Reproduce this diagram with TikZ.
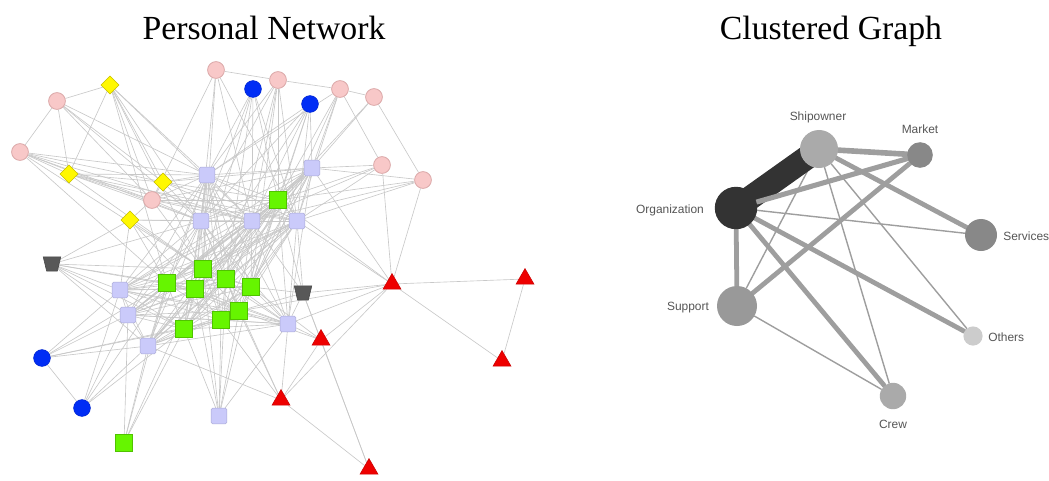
\documentclass[tikz,border=0pt]{standalone}
\usepackage{fontspec}
\setmainfont{Liberation Serif}
\newfontfamily\labelfont{Liberation Sans}
\usetikzlibrary{shapes.geometric}

\pgfdeclarelayer{bg}
\pgfsetlayers{bg,main}

\definecolor{pinkfill}{RGB}{248,200,200}
\definecolor{pinkline}{RGB}{220,170,170}
\definecolor{bluefill}{RGB}{0,45,245}
\definecolor{lavfill}{RGB}{202,202,250}
\definecolor{lavline}{RGB}{170,170,215}
\definecolor{greenfill}{RGB}{102,245,0}
\definecolor{greenline}{RGB}{80,195,0}
\definecolor{yellowfill}{RGB}{255,248,0}
\definecolor{yellowline}{RGB}{200,190,0}
\definecolor{redfill}{RGB}{238,0,0}
\definecolor{trapfill}{RGB}{88,88,88}
\definecolor{edgegray}{RGB}{200,200,200}
\definecolor{linkgray}{RGB}{158,158,158}
\definecolor{labelgray}{RGB}{85,85,85}

\tikzset{
	pinknode/.style={circle, fill=pinkfill, draw=pinkline, line width=0.6pt, minimum size=0.42cm, inner sep=0pt},
	bluenode/.style={circle, fill=bluefill, draw=bluefill!85!black, line width=0.4pt, minimum size=0.42cm, inner sep=0pt},
	yellownode/.style={diamond, fill=yellowfill, draw=yellowline, line width=0.4pt, minimum size=0.46cm, inner sep=0pt},
	lavnode/.style={rectangle, rounded corners=1pt, fill=lavfill, draw=lavline, line width=0.4pt, minimum size=0.39cm, inner sep=0pt},
	greennode/.style={rectangle, fill=greenfill, draw=greenline, line width=0.4pt, minimum size=0.43cm, inner sep=0pt},
	trapnode/.style={trapezium, trapezium angle=72, trapezium stretches=true, shape border rotate=180, fill=trapfill, draw=trapfill!80!black, line width=0.4pt, minimum width=0.44cm, minimum height=0.36cm, inner sep=1pt},
	rednode/.style={regular polygon, regular polygon sides=3, fill=redfill, draw=redfill!85!black, line width=0.4pt, minimum size=0.52cm, inner sep=0pt},
	tieline/.style={draw=edgegray, line width=0.45pt},
	cluster/.style={circle, inner sep=0pt},
	link/.style={draw=linkgray, line cap=round},
	clabel/.style={text=labelgray, font=\labelfont\fontsize{8.5}{9}\selectfont, inner sep=0pt},
	title/.style={font=\fontsize{24}{28}\selectfont, anchor=base, inner sep=0pt}
}

\begin{document}
\begin{tikzpicture}[x=0.025cm, y=-0.025cm]
	\useasboundingbox (0,0) rectangle (1049,480);

	%% titles
	\node[title] at (264,39)(titleA){Personal Network};
	\node[title] at (831,39)(titleB){Clustered Graph};

	%% personal network: pink
	\node[pinknode] at (216,70)(pa){};
	\node[pinknode] at (278,80)(pb){};
	\node[pinknode] at (340,89)(pc){};
	\node[pinknode] at (374,97)(pd){};
	\node[pinknode] at (57,101)(pe){};
	\node[pinknode] at (20,152)(pf){};
	\node[pinknode] at (382,165)(pg){};
	\node[pinknode] at (423,180)(ph){};
	\node[pinknode] at (152,200)(pi){};

	%% blue
	\node[bluenode] at (253,89)(ba){};
	\node[bluenode] at (310,104)(bb){};
	\node[bluenode] at (42,358)(bc){};
	\node[bluenode] at (82,408)(bd){};

	%% yellow
	\node[yellownode] at (110,85)(ya){};
	\node[yellownode] at (69,174)(yb){};
	\node[yellownode] at (163,182)(yc){};
	\node[yellownode] at (130,220)(yd){};

	%% lavender
	\node[lavnode] at (207,175)(la){};
	\node[lavnode] at (312,168)(lb){};
	\node[lavnode] at (201,221)(lc){};
	\node[lavnode] at (252,221)(ld){};
	\node[lavnode] at (297,221)(le){};
	\node[lavnode] at (120,290)(lf){};
	\node[lavnode] at (128,315)(lg){};
	\node[lavnode] at (148,346)(lh){};
	\node[lavnode] at (288,324)(li){};
	\node[lavnode] at (219,416)(lj){};

	%% green
	\node[greennode] at (278,200)(ga){};
	\node[greennode] at (203,269)(gb){};
	\node[greennode] at (167,283)(gc){};
	\node[greennode] at (226,279)(gd){};
	\node[greennode] at (195,289)(ge){};
	\node[greennode] at (251,287)(gf){};
	\node[greennode] at (239,311)(gg){};
	\node[greennode] at (221,320)(gh){};
	\node[greennode] at (184,329)(gi){};
	\node[greennode] at (124,443)(gj){};

	%% gray
	\node[trapnode] at (52,264)(ka){};
	\node[trapnode] at (303,293)(kb){};

	%% red
	\node[rednode] at (392,284)(ra){};
	\node[rednode] at (525,279)(rb){};
	\node[rednode] at (321,340)(rc){};
	\node[rednode] at (502,361)(rd){};
	\node[rednode] at (281,400)(re){};
	\node[rednode] at (369,469)(rf){};

	\begin{pgfonlayer}{bg}
		% dense core
		\foreach \a [count=\i] in {la,lb,lc,ld,le,lf,lg,lh,li,ga,gb,gc,gd,ge,gf,gg,gh,gi}{
			\foreach \b [count=\j] in {la,lb,lc,ld,le,lf,lg,lh,li,ga,gb,gc,gd,ge,gf,gg,gh,gi}{
				\ifnum\j>\i \draw[tieline] (\a) -- (\b); \fi
			}
		}
		% outer ties
		\foreach \s/\ts in {
			pa/{pb,pi,ld,le,gb,lc},
			pb/{pc,la,lc,ld,le,ga,gd,gf},
			ba/{la,ld,le,ga,gb,gd,lc},
			bb/{la,ld,ga,le,gf,lb,lc,gb},
			pc/{pd,lb,la,ga,le,gf,pg},
			pd/{ph,lb,ga},
			pg/{lb,ld,le,ga,ra},
			ph/{lb,le,ld,ga,ra},
			pe/{ya,pf,yb,yc,la,lc,pi},
			pf/{yb,yc,pi,la,lc,ld,gb,gc},
			ya/{yb,yc,pi,lc,la,ld,gb,gc},
			yb/{yc,la,pi,lc,ld,le,gb},
			yc/{pi,la,lc,ld,le,lb,ga},
			yd/{pi,lc,ld,gc,gb,ge,lf,ka},
			pi/{la,lc,ld,le,lb,ga,gb},
			ka/{lf,lg,lc,gb,gc,ge,gi,lh},
			kb/{ga,le,ld,gf,gg,li,ra,rc,rf},
			bc/{bd,lf,lg,lh,gc,gi,gh},
			bd/{lf,lg,lh,gc,gi},
			gj/{lh,lg,gi,ge,gc},
			lj/{gb,gd,ge,gf,gg,gh,gi,li},
			ra/{rb,rd,rc,re,le,lb,ga,li,gg},
			rb/{rd},
			rc/{rf,re,li,gf,gg},
			re/{rf,gd,gg,gh,lh,li}}{
			\foreach \t in \ts {\draw[tieline] (\s) -- (\t);}
		}
	\end{pgfonlayer}

	%% clustered graph
	\node[cluster, fill={rgb,255:red,51;green,51;blue,51}, minimum size=1.06cm] at (736,208)(org){};
	\node[cluster, fill={rgb,255:red,170;green,170;blue,170}, minimum size=0.95cm] at (819,149)(ship){};
	\node[cluster, fill={rgb,255:red,136;green,136;blue,136}, minimum size=0.64cm] at (920,155)(market){};
	\node[cluster, fill={rgb,255:red,136;green,136;blue,136}, minimum size=0.8cm] at (981,235)(serv){};
	\node[cluster, fill={rgb,255:red,153;green,153;blue,153}, minimum size=1.0cm] at (737,306)(supp){};
	\node[cluster, fill={rgb,255:red,204;green,204;blue,204}, minimum size=0.48cm] at (973,336)(other){};
	\node[cluster, fill={rgb,255:red,170;green,170;blue,170}, minimum size=0.66cm] at (893,396)(crew){};

	\node[clabel] at (670,210)(orglab){Organization};
	\node[clabel] at (818,117)(shiplab){Shipowner};
	\node[clabel] at (920,129)(marketlab){Market};
	\node[clabel, anchor=west] at (1003,236)(servlab){Services};
	\node[clabel] at (688,308)(supplab){Support};
	\node[clabel, anchor=west] at (988,337)(otherlab){Others};
	\node[clabel] at (893,424)(crewlab){Crew};

	\begin{pgfonlayer}{bg}
		\path[link, line width=1pt] (org) edge (serv) (supp) edge (ship) (supp) edge (crew)
			(ship) edge (crew) (ship) edge (other);
		\path[link, line width=3.4pt] (org) edge (supp) (org) edge (crew) (org) edge (other)
			(ship) edge (serv) (supp) edge (market);
		\path[link, line width=4pt] (ship) edge (market);
		\draw[draw={rgb,255:red,51;green,51;blue,51}, line width=17pt] (org.center) -- (ship.center);
		\path[link, line width=3.6pt] (org) edge (market);
	\end{pgfonlayer}
\end{tikzpicture}
\end{document}
